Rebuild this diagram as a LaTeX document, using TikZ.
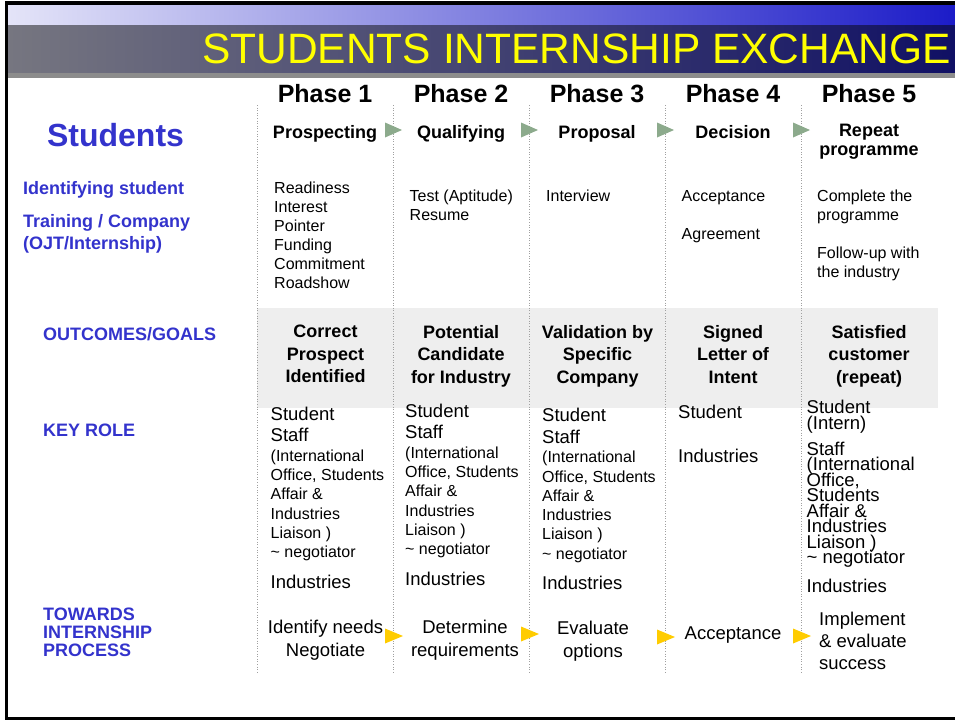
\documentclass[tikz,border=0pt]{standalone}
\usepackage{fontspec}
\setmainfont{Liberation Sans}
\usetikzlibrary{positioning}
\usepackage{xcolor}
\definecolor{titleyellow}{RGB}{255,255,0}
\definecolor{headblue}{RGB}{51,51,204}
\definecolor{bandgray}{RGB}{238,238,238}
\definecolor{stepgreen}{RGB}{140,170,140}
\definecolor{taskgold}{RGB}{255,204,0}
\definecolor{linegray}{RGB}{160,160,160}
\lineskiplimit=-100pt

\begin{document}
\begin{tikzpicture}[
                x=1pt, y=-1pt,
                sidenode/.style={anchor=base west, inner sep=0pt, text=headblue, font=\bfseries\fontsize{18}{22}\selectfont, align=left},
                phasenode/.style={anchor=base, inner sep=0pt, font=\bfseries\fontsize{25}{30}\selectfont},
                stepnode/.style={anchor=base, inner sep=0pt, font=\bfseries\fontsize{18}{18.5}\selectfont, align=center},
                listnode/.style={anchor=north west, inner sep=0pt, font=\fontsize{16}{19}\selectfont, align=left},
                goalnode/.style={anchor=north, inner sep=0pt, font=\bfseries\fontsize{18}{22.5}\selectfont, align=center},
                rolenode/.style={anchor=north west, inner sep=0pt, font=\fontsize{18.5}{21.7}\selectfont, align=left},
                smallrolenode/.style={anchor=north west, inner sep=0pt, font=\fontsize{16}{19.3}\selectfont, align=left},
                tightrolenode/.style={anchor=north west, inner sep=0pt, font=\fontsize{18.5}{15.5}\selectfont, align=left},
                tasknode/.style={anchor=north, inner sep=0pt, font=\fontsize{18.5}{23}\selectfont, align=center}
                ]
                \useasboundingbox (0,0) rectangle (955,721);

                %% Title bar
                \shade[left color={rgb,255:red,228;green,228;blue,248}, middle color={rgb,255:red,175;green,175;blue,228}, right color={rgb,255:red,28;green,28;blue,200}] (8,5) rectangle (955,25);
                \shade[left color={rgb,255:red,118;green,118;blue,128}, middle color={rgb,255:red,78;green,78;blue,110}, right color={rgb,255:red,16;green,16;blue,100}] (8,25) rectangle (955,73);
                \fill[gray!90] (8,73) rectangle (955,78);
                \node[anchor=base east, inner sep=0pt, text=titleyellow, font=\fontsize{42.5}{42.5}\selectfont] (title) at (951,63) {STUDENTS INTERNSHIP EXCHANGE};

                %% Frame
                \fill[black] (5,1) rectangle (955,5);
                \fill[black] (5,1) rectangle (8,719.5);
                \fill[black] (5,716.5) rectangle (955,719.5);

                %% Outcomes band and column lines
                \fill[bandgray] (257,308) rectangle (938,408);
                \foreach \x in {257,393,529,665,801} {
                    \draw[linegray, dotted, line width=0.6pt] (\x,105) -- (\x,673);
                }

                %% Row labels
                \node[anchor=base, inner sep=0pt, text=headblue, font=\bfseries\fontsize{32}{32}\selectfont] (students) at (115.5,146.5) {Students};
                \node[sidenode] (identify) at (23,194.4) {Identifying student};
                \node[sidenode, anchor=north west] (training) at (23,214.3) {Training / Company\\(OJT/Internship)};
                \node[sidenode] (outcomes) at (43,340) {OUTCOMES/GOALS};
                \node[sidenode] (keyrole) at (43,436.5) {KEY ROLE};
                \node[sidenode, anchor=north west, font=\bfseries\fontsize{18}{18}\selectfont] (towards) at (43,607.6) {TOWARDS\\INTERNSHIP\\PROCESS};

                %% Phases and steps
                \foreach \n/\x in {1/325, 2/461, 3/597, 4/733, 5/869} {
                    \node[phasenode] (phase\n) at (\x,102) {Phase \n};
                }
                \foreach \n/\x/\txt in {1/325/Prospecting, 2/461/Qualifying, 3/597/Proposal, 4/733/Decision} {
                    \node[stepnode] (step\n) at (\x,138) {\txt};
                }
                \node[stepnode, anchor=north] (step5) at (869,124) {Repeat\\programme};
                \foreach \x in {393,529,665,801} {
                    \fill[stepgreen] (\x-8,122.5) -- (\x+9,130) -- (\x-8,137.5) -- cycle;
                }

                %% Details
                \node[listnode] (list1) at (274,181.6) {Readiness\\Interest\\Pointer\\Funding\\Commitment\\Roadshow};
                \node[listnode] (list2) at (409.5,190) {Test (Aptitude)\\Resume};
                \node[listnode] (list3) at (546,190) {Interview};
                \node[listnode] (list4) at (681.5,190) {Acceptance\\[19pt]Agreement};
                \node[listnode] (list5) at (817,190) {Complete the\\programme\\[19pt]Follow-up with\\the industry};

                %% Outcomes
                \foreach \n/\x/\txt in {1/325.5/{Correct\\Prospect\\Identified}, 2/461/{Potential\\Candidate\\for Industry}, 3/597.5/{Validation by\\Specific\\Company}, 4/733/{Signed\\Letter of\\Intent}, 5/869/{Satisfied\\customer\\(repeat)}} {
                    \node[goalnode] (goal\n) at (\x,325.2) {\txt};
                }

                %% Key roles
                \foreach \n/\x/\dy in {1/270.5/0, 2/405/-3, 3/542/1.5} {
                    \node[rolenode] (role\n) at (\x,406.5+\dy) {Student\\Staff};
                    \node[smallrolenode] (staff\n) at (\x,449.4+\dy) {(International\\Office, Students\\Affair \&\\Industries\\Liaison )\\\textasciitilde{} negotiator};
                    \node[rolenode, anchor=base west] (industry\n) at (\x,588.3+\dy) {Industries};
                }
                \node[rolenode, anchor=base west] (role4) at (678,418.6) {Student};
                \node[rolenode, anchor=base west] (industry4) at (678,462.6) {Industries};
                \node[tightrolenode] (role5) at (806.5,400) {Student\\(Intern)};
                \node[tightrolenode] (staff5) at (806.5,441.5) {Staff\\(International\\Office,\\Students\\Affair \&\\Industries\\Liaison )\\\textasciitilde{} negotiator};
                \node[rolenode, anchor=base west] (industry5) at (806.5,592.3) {Industries};

                %% Process
                \node[tasknode] (task1) at (325.5,620.1) {Identify needs\\Negotiate};
                \node[tasknode] (task2) at (465,620.1) {Determine\\requirements};
                \node[tasknode] (task3) at (593,621) {Evaluate\\options};
                \node[tasknode, anchor=base] (task4) at (733,639.6) {Acceptance};
                \node[tasknode, anchor=north west, align=left, font=\fontsize{18.5}{22}\selectfont] (task5) at (819,612.1) {Implement\\\& evaluate\\success};
                \foreach \x/\y in {393/636, 529/634, 665/637, 801/636} {
                    \fill[taskgold] (\x-8,\y-7.5) -- (\x+10,\y) -- (\x-8,\y+7.5) -- cycle;
                }
\end{tikzpicture}
\end{document}
